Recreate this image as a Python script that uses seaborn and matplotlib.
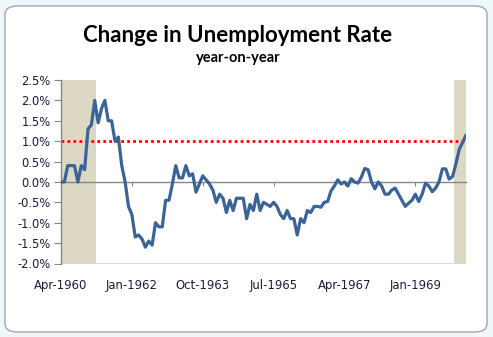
import matplotlib
matplotlib.use("Agg")
import matplotlib.pyplot as plt
from matplotlib.patches import FancyBboxPatch
import seaborn as sns
import pandas as pd
import numpy as np

# ---- data ----
months = pd.date_range("1960-04-01", "1970-04-01", freq="MS").strftime("%b-%Y").tolist()
yoy_change = [
    0.0, 0.0, 0.4, 0.4, 0.4, 0.0, 0.4, 0.3, 1.3, 1.4, 2.0, 1.45, 1.8, 2.0, 1.5, 1.5, 1.0, 1.1,
    0.4, 0.0, -0.6, -0.8, -1.35, -1.3, -1.4, -1.6, -1.45, -1.55, -1.0, -1.1, -1.1, -0.45, -0.45,
    -0.05, 0.4, 0.1, 0.1, 0.4, 0.15, 0.2, -0.25, -0.05, 0.15, 0.05, -0.05, -0.2, -0.5, -0.3,
    -0.4, -0.75, -0.45, -0.7, -0.4, -0.4, -0.4, -0.9, -0.55, -0.7, -0.3, -0.7, -0.5, -0.55,
    -0.6, -0.5, -0.6, -0.8, -0.9, -0.7, -0.9, -0.9, -1.3, -0.9, -1.0, -0.7, -0.75, -0.6,
    -0.6, -0.62, -0.5, -0.48, -0.22, -0.1, 0.05, -0.05, 0.0, -0.1, 0.08, 0.0, -0.03, 0.12,
    0.33, 0.3, 0.0, -0.17, 0.0, -0.1, -0.3, -0.3, -0.2, -0.15, -0.3, -0.45, -0.6, -0.52,
    -0.45, -0.3, -0.48, -0.3, -0.03, -0.1, -0.24, -0.15, 0.0, 0.32, 0.32, 0.07, 0.13, 0.44,
    0.8, 0.97, 1.15,
]
recessions = [(0, 10.5), (116.5, 120)]  # month-index spans (Apr-1960..Feb-1961, Dec-1969..)
threshold = 1.0
tick_labels = ["Apr-1960", "Jan-1962", "Oct-1963", "Jul-1965", "Apr-1967", "Jan-1969"]

df = pd.DataFrame({"idx": np.arange(len(yoy_change)), "month": months[:len(yoy_change)],
                   "change": yoy_change})

# ---- figure ----
sns.set_style("white")
plt.rcParams["font.family"] = ["DejaVu Sans"]
W, H = 493, 337
fig = plt.figure(figsize=(W / 100, H / 100), dpi=100)
fig.patch.set_facecolor("#eef7f9")
frame = FancyBboxPatch((5 / W, 5 / H), 482 / W, 326 / H,
                       boxstyle="round,pad=0,rounding_size=0.025",
                       transform=fig.transFigure, facecolor="white",
                       edgecolor="#a6a6a6", linewidth=1.0, zorder=-10)
fig.patches.append(frame)

left, right, top, bottom = 61, 466, 80, 263.5
ax = fig.add_axes([left / W, 1 - bottom / H, (right - left) / W, (bottom - top) / H])
ax.set_zorder(5)
ax.set_facecolor("white")

for a, b in recessions:
    ax.axvspan(a, b, color="#ddd8c4", lw=0, zorder=0)

ax.axhline(threshold, color="#ff0000", lw=2.0, linestyle=(0, (1, 1.15)), zorder=2)

sns.lineplot(data=df, x="idx", y="change", ax=ax, color="#3a6498", lw=2.3, zorder=3)

ax.set_xlim(0, len(yoy_change) - 1)
ax.set_ylim(-2.0, 2.5)
yt = np.arange(-2.0, 2.51, 0.5)
ax.set_yticks(yt)
ax.set_yticklabels([f"{v:.1f}%" for v in yt])
ax.set_xticks(np.arange(0, len(tick_labels) * 21, 21))
ax.set_xticklabels(tick_labels)
ax.set_xlabel("")
ax.set_ylabel("")

for s in ["top", "right"]:
    ax.spines[s].set_visible(False)
ax.spines["left"].set_color("#868686")
ax.spines["left"].set_linewidth(1.0)
ax.spines["bottom"].set_position(("data", 0))
ax.spines["bottom"].set_color("#868686")
ax.spines["bottom"].set_linewidth(1.0)
ax.axhline(-2.0, color="#ddd8c4", lw=1.2, zorder=1)

ax.tick_params(axis="y", direction="out", length=5, width=0.8, color="#868686",
               labelsize=8.3, pad=2.5, left=True, labelcolor="#1a1a3a")
ax.tick_params(axis="x", direction="out", length=3, width=0.8, color="#868686",
               labelsize=8.4, pad=67, bottom=True, labelcolor="#1a1a3a")

fig.text(238 / W, 1 - 35 / H, "Change in Unemployment Rate", ha="center", va="center",
         fontsize=16, fontweight="bold", color="black", family=["Lato", "DejaVu Sans"])
fig.text(238 / W, 1 - 58 / H, "year-on-year", ha="center", va="center",
         fontsize=10.5, fontweight="bold", color="black", family=["Lato", "DejaVu Sans"])

fig.savefig("out.png", dpi=100, facecolor=fig.get_facecolor())
